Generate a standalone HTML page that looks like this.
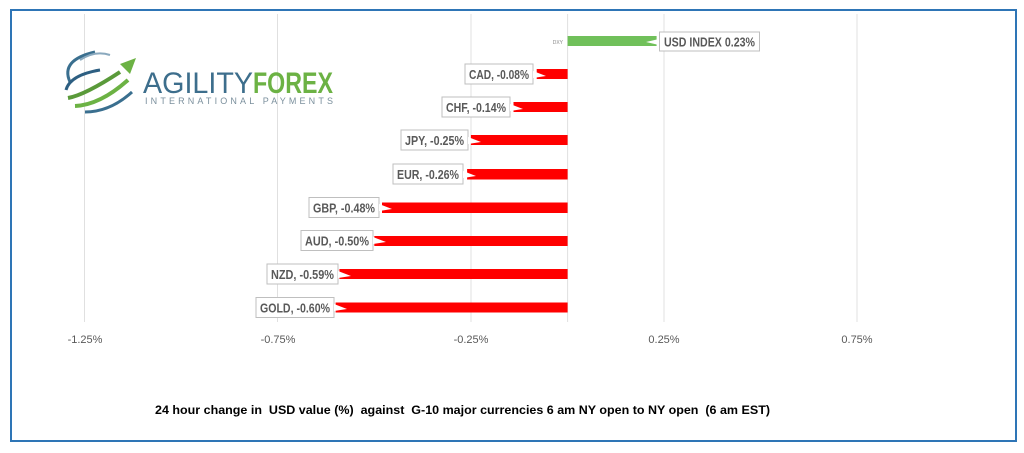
<!DOCTYPE html>
<html><head><meta charset="utf-8"><style>
html,body{margin:0;padding:0;background:#fff;}
svg{display:block;}
text{font-family:"Liberation Sans",Arial,sans-serif;}
</style></head><body>
<svg width="1024" height="453" viewBox="0 0 1024 453" xmlns="http://www.w3.org/2000/svg">
<rect x="0" y="0" width="1024" height="453" fill="#fff"/>
<rect x="11" y="10" width="1005" height="431" fill="none" stroke="#2e75b6" stroke-width="2"/>
<g stroke="#e0e0e0" stroke-width="1">
<line x1="84.5" y1="14" x2="84.5" y2="322"/>
<line x1="277.5" y1="14" x2="277.5" y2="322"/>
<line x1="471" y1="14" x2="471" y2="322"/>
<line x1="567.6" y1="14" x2="567.6" y2="322"/>
<line x1="664" y1="14" x2="664" y2="322"/>
<line x1="857" y1="14" x2="857" y2="322"/>
</g>
<g font-size="11" fill="#595959" text-anchor="middle">
<text x="85" y="343">-1.25%</text>
<text x="278" y="343">-0.75%</text>
<text x="471" y="343">-0.25%</text>
<text x="664" y="343">0.25%</text>
<text x="857" y="343">0.75%</text>
</g>
<g>
<path d="M70 82 Q60 60 95 52" stroke="#3a6f8f" stroke-width="3" fill="none"/>
<path d="M66 90 Q70 75 100 70" stroke="#2d5f82" stroke-width="3" fill="none"/>
<path d="M68 98 Q85 95 120 72" stroke="#5a9a3a" stroke-width="4" fill="none"/>
<path d="M75 106 Q100 105 128 80" stroke="#6cb244" stroke-width="4" fill="none"/>
<path d="M85 112 Q110 112 132 92" stroke="#3a6f8f" stroke-width="3" fill="none"/>
<polygon points="120,64 136,58 130,74" fill="#6cb244"/>
<path d="M80 60 Q95 50 110 55" stroke="#8aa9be" stroke-width="2" fill="none"/>
<text x="143" y="93" font-size="30" fill="#3d6e8c" textLength="110" lengthAdjust="spacingAndGlyphs">AGILITY</text>
<text x="253" y="93" font-size="30" font-weight="bold" fill="#6cb244" textLength="80" lengthAdjust="spacingAndGlyphs">FOREX</text>
<text x="145" y="104" font-size="9" fill="#7a8f9c" textLength="188" lengthAdjust="spacing">INTERNATIONAL PAYMENTS</text>
</g>
<rect x="567.6" y="36" width="89" height="10" fill="#70c05a"/>
<g fill="#ff0000">
<rect x="536.7" y="69" width="30.9" height="10"/>
<rect x="513.5" y="102" width="54.1" height="10"/>
<rect x="470.9" y="135" width="96.7" height="10"/>
<rect x="467.1" y="169" width="100.5" height="10.5"/>
<rect x="382" y="202.5" width="185.6" height="10.5"/>
<rect x="374.3" y="236" width="193.3" height="10"/>
<rect x="339.4" y="269" width="228.2" height="10"/>
<rect x="335.6" y="302.5" width="232" height="10"/>
</g>
<text x="563" y="44" font-size="5" fill="#888" text-anchor="end">DXY</text>
<g stroke="#bfbfbf" stroke-width="1" fill="#fff">
<rect x="659.5" y="32" width="100" height="19"/>
<rect x="465" y="64" width="68" height="20"/>
<rect x="442" y="97" width="68" height="20"/>
<rect x="401" y="130" width="67" height="20"/>
<rect x="393" y="164" width="70" height="20"/>
<rect x="309" y="197.5" width="70" height="20"/>
<rect x="301" y="230.5" width="72" height="20"/>
<rect x="267" y="264" width="71" height="20"/>
<rect x="256" y="297.5" width="78" height="20"/>
</g>
<g fill="#fff">
<polygon points="659,39 646,42 659,45"/>
<polygon points="533,71 546,76 533,78"/>
<polygon points="510,104 523,109 510,111"/>
<polygon points="468,137 481,142 468,144"/>
<polygon points="463,171 476,176 463,178"/>
<polygon points="379,204 392,209 379,211"/>
<polygon points="373,237 386,242 373,244"/>
<polygon points="338,271 351,276 338,278"/>
<polygon points="334,304 347,309 334,311"/>
</g>
<g font-size="13" font-weight="bold" fill="#595959">
<text x="664" y="46.5" textLength="91" lengthAdjust="spacingAndGlyphs">USD INDEX 0.23%</text>
<text x="469" y="79" textLength="60" lengthAdjust="spacingAndGlyphs">CAD, -0.08%</text>
<text x="446" y="112" textLength="60" lengthAdjust="spacingAndGlyphs">CHF, -0.14%</text>
<text x="405" y="145" textLength="59" lengthAdjust="spacingAndGlyphs">JPY, -0.25%</text>
<text x="397" y="179" textLength="62" lengthAdjust="spacingAndGlyphs">EUR, -0.26%</text>
<text x="313" y="212.5" textLength="62" lengthAdjust="spacingAndGlyphs">GBP, -0.48%</text>
<text x="305" y="245.5" textLength="64" lengthAdjust="spacingAndGlyphs">AUD, -0.50%</text>
<text x="271" y="279" textLength="63" lengthAdjust="spacingAndGlyphs">NZD, -0.59%</text>
<text x="260" y="312.5" textLength="70" lengthAdjust="spacingAndGlyphs">GOLD, -0.60%</text>
</g>
<text x="155" y="414" font-size="12" font-weight="bold" fill="#000" xml:space="preserve" textLength="615" lengthAdjust="spacingAndGlyphs">24 hour change in  USD value (%)  against  G-10 major currencies 6 am NY open to NY open  (6 am EST)</text>
</svg>
</body></html>
